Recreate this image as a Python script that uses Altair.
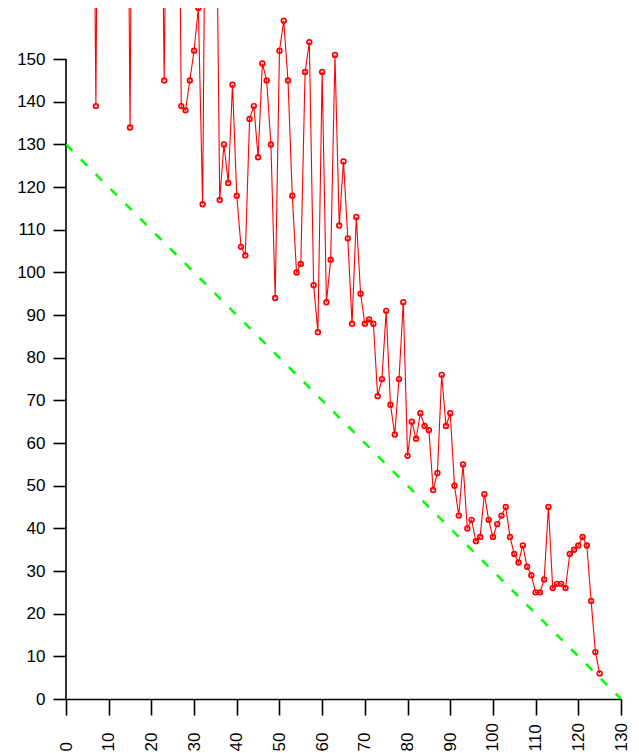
import altair as alt
import pandas as pd

# x positions (1..125) and observed values (values above the plot top are clipped in the reference)
x_vals = list(range(1, 126))
y_vals = [
    420, 380, 360, 330, 300, 260, 139, 290, 270, 250,   # 1-10
    280, 240, 260, 266, 134, 285, 230, 240, 220, 230,   # 11-20
    210, 240, 145, 230, 210, 250, 139, 138, 145, 152,   # 21-30
    162, 116, 238, 220, 213, 117, 130, 121, 144, 118,   # 31-40
    106, 104, 136, 139, 127, 149, 145, 130, 94, 152,    # 41-50
    159, 145, 118, 100, 102, 147, 154, 97, 86, 147,     # 51-60
    93, 103, 151, 111, 126, 108, 88, 113, 95, 88,       # 61-70
    89, 88, 71, 75, 91, 69, 62, 75, 93, 57,             # 71-80
    65, 61, 67, 64, 63, 49, 53, 76, 64, 67,             # 81-90
    50, 43, 55, 40, 42, 37, 38, 48, 42, 38,             # 91-100
    41, 43, 45, 38, 34, 32, 36, 31, 29, 25,             # 101-110
    25, 28, 45, 26, 27, 27, 26, 34, 35, 36,             # 111-120
    38, 36, 23, 11, 6,                                  # 121-125
]

# reference diagonal
ref_x = [0, 130]
ref_y = [130, 0]

# axis ticks
x_ticks = [0, 10, 20, 30, 40, 50, 60, 70, 80, 90, 100, 110, 120, 130]
y_ticks = [0, 10, 20, 30, 40, 50, 60, 70, 80, 90, 100, 110, 120, 130, 140, 150]
y_axis_span = [0, 150]

df = pd.DataFrame({"x": x_vals, "y": y_vals})
ref = pd.DataFrame({"x": ref_x, "y": ref_y})
yspan = pd.DataFrame({"x": [0], "y": [y_axis_span[0]], "y2": [y_axis_span[1]]})

FONT = "Liberation Sans"

xscale = alt.Scale(domain=[0, 130], nice=False, zero=False)
yscale = alt.Scale(domain=[0, 162], nice=False, zero=False)

xaxis = alt.Axis(
    values=x_ticks, title=None, grid=False,
    tickSize=16, tickWidth=1.6, tickColor="black",
    domain=True, domainColor="black", domainWidth=1.6,
    labelAngle=270, labelAlign="left", labelBaseline="middle",
    labelPadding=36, labelFontSize=17, labelFont=FONT, labelColor="black",
    labelFlush=False, labelOverlap=False, labelBound=False,
)
yaxis = alt.Axis(
    values=y_ticks, title=None, grid=False,
    tickSize=13, tickWidth=1.6, tickColor="black",
    domain=False,
    labelPadding=8, labelFontSize=17, labelFont=FONT, labelColor="black",
    labelFlush=False, labelOverlap=False, labelBound=False,
)

line = alt.Chart(df).mark_line(color="#ff0000", strokeWidth=1.1, clip=True).encode(
    x=alt.X("x:Q", scale=xscale, axis=xaxis),
    y=alt.Y("y:Q", scale=yscale, axis=yaxis),
)
points = alt.Chart(df).mark_point(
    color="#ff0000", filled=False, size=22, strokeWidth=1.7, opacity=1, clip=True
).encode(
    x=alt.X("x:Q", scale=xscale),
    y=alt.Y("y:Q", scale=yscale),
)
refline = alt.Chart(ref).mark_line(
    color="#00ff00", strokeWidth=2.5, strokeDash=[9, 12], clip=True
).encode(
    x=alt.X("x:Q", scale=xscale),
    y=alt.Y("y:Q", scale=yscale),
)
yrule = alt.Chart(yspan).mark_rule(color="black", strokeWidth=1.6).encode(
    x=alt.X("x:Q", scale=xscale),
    y=alt.Y("y:Q", scale=yscale),
    y2="y2:Q",
)

chart = alt.layer(yrule, line, points, refline).properties(
    width=555, height=691,
    autosize=alt.AutoSizeParams(type="none"),
    padding={"left": 58, "top": 0, "right": 10, "bottom": 54},
).configure_view(stroke=None)

chart.save("out.html", embed_options={"renderer": "svg", "actions": False})
